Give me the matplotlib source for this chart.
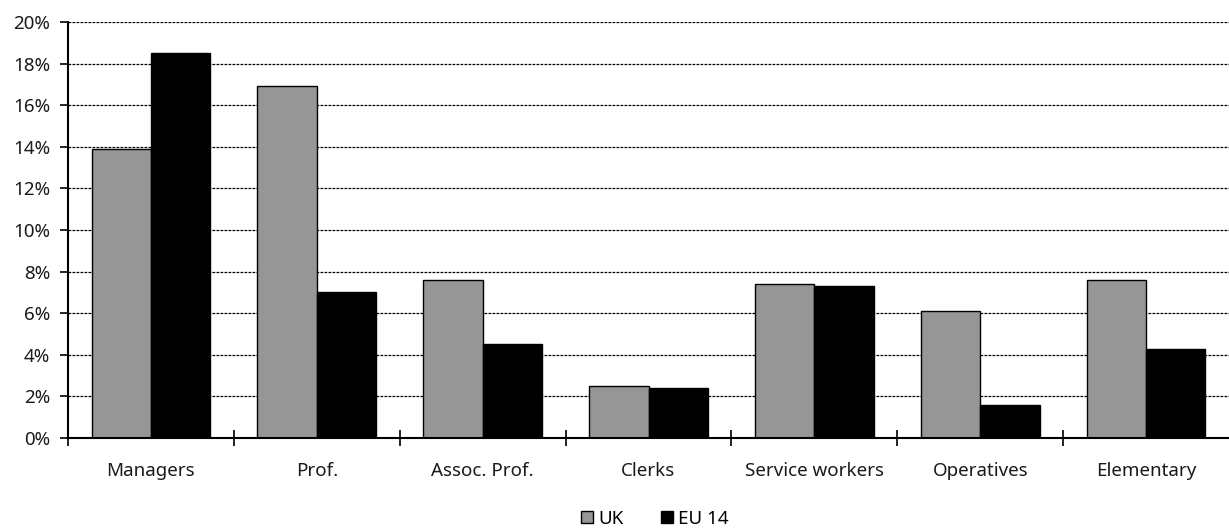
import matplotlib
matplotlib.use("Agg")
import matplotlib.pyplot as plt
from matplotlib.patches import Patch
from matplotlib.ticker import FuncFormatter, FixedLocator
import numpy as np

categories = ["Managers", "Prof.", "Assoc. Prof.", "Clerks",
              "Service workers", "Operatives", "Elementary"]
uk = [13.9, 16.9, 7.6, 2.5, 7.4, 6.1, 7.6]
eu14 = [18.5, 7.0, 4.5, 2.4, 7.3, 1.6, 4.3]
series_names = ["UK", "EU 14"]
y_ticks = [0, 2, 4, 6, 8, 10, 12, 14, 16, 18, 20]

plt.rcParams["font.family"] = ["Noto Sans", "DejaVu Sans"]
plt.rcParams["font.size"] = 13.5

fig = plt.figure(figsize=(12.29, 5.32), dpi=100)
ax = fig.add_axes([68 / 1229, 1 - 438 / 532, 1 - 68 / 1229, (438 - 22) / 532])

x = np.arange(len(categories))
w = 0.358
uk_color = "#969696"
eu_color = "#000000"
ax.bar(x - w / 2, uk, w, color=uk_color, edgecolor="black", linewidth=1.0, zorder=3)
ax.bar(x + w / 2, eu14, w, color=eu_color, edgecolor="black", linewidth=1.0, zorder=3)

ax.set_xlim(-0.5, len(categories) - 0.5)
ax.set_ylim(0, 20)

# y axis: percent labels, outward ticks, dashed gridlines
ax.set_yticks(y_ticks)
ax.yaxis.set_major_formatter(FuncFormatter(lambda v, _: f"{v:.0f}%"))
ax.tick_params(axis="y", direction="out", length=6, width=1.2, pad=7,
               colors="black", labelcolor="#1a1a1a")
for v in y_ticks[1:]:
    ax.axhline(v, color="black", linewidth=0.9, linestyle=(0, (2.2, 1.0)), zorder=1)

# x axis: ticks at category boundaries, labels at centres
ax.xaxis.set_major_locator(FixedLocator(np.arange(-0.5, len(categories) - 0.5, 1.0)))
ax.xaxis.set_major_formatter(FuncFormatter(lambda v, _: ""))
ax.xaxis.set_minor_locator(FixedLocator(x))
ax.set_xticklabels(categories, minor=True)
ax.tick_params(axis="x", which="major", direction="inout", length=12, width=1.2)
ax.tick_params(axis="x", which="minor", length=0, pad=17, labelcolor="#1a1a1a")

for side in ["top", "right"]:
    ax.spines[side].set_visible(False)
ax.spines["left"].set_linewidth(1.5)
ax.spines["bottom"].set_linewidth(1.5)
ax.spines["left"].set_zorder(4)
ax.spines["bottom"].set_zorder(4)

handles = [Patch(facecolor=uk_color, edgecolor="black", linewidth=1.0),
           Patch(facecolor=eu_color, edgecolor="black", linewidth=1.0)]
fig.legend(handles, series_names, loc="center", bbox_to_anchor=(0.533, 1 - 519 / 532),
           ncol=2, frameon=False, handlelength=0.62, handleheight=0.62,
           handletextpad=0.3, columnspacing=2.0, fontsize=13.5)

fig.savefig("out.png", dpi=100, facecolor="white")
